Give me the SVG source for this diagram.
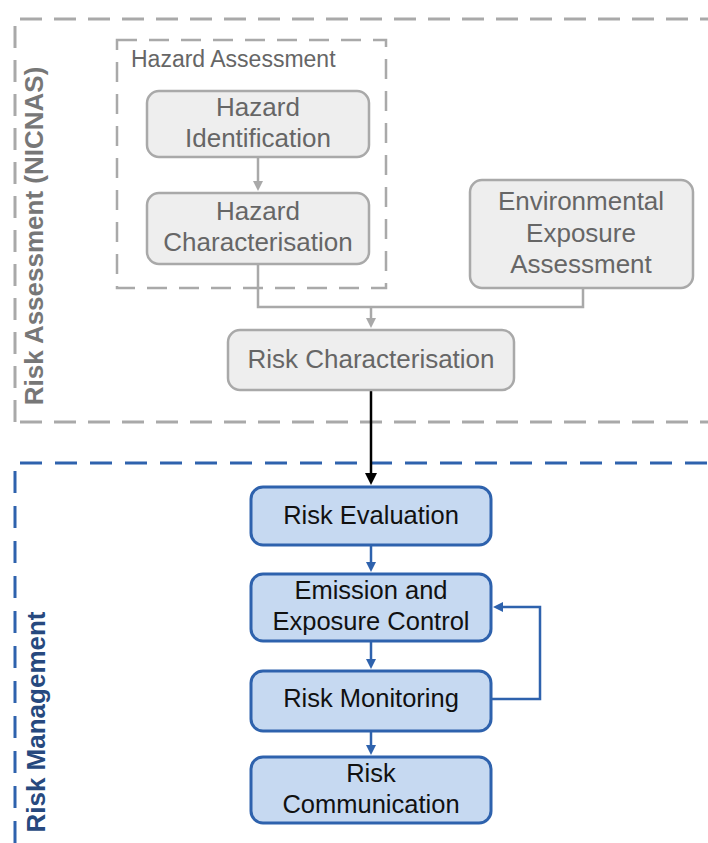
<svg xmlns="http://www.w3.org/2000/svg" width="708" height="843" viewBox="0 0 708 843">
<defs>
<style>
.gbox{fill:#eeeeee;stroke:#a9a9a9;stroke-width:2.5}
.bbox{fill:#c6d9f1;stroke:#2e62ad;stroke-width:3}
.gt{font-family:"Liberation Sans",Arial,sans-serif;font-size:26px;fill:#666;text-anchor:middle}
.bt{font-family:"Liberation Sans",Arial,sans-serif;font-size:25.5px;fill:#111;text-anchor:middle}
.gline{fill:none;stroke:#a9a9a9;stroke-width:2.5}
.bline{fill:none;stroke:#2e62ad;stroke-width:2.5}
</style>
<marker id="ag" markerWidth="10" markerHeight="10" refX="5" refY="5" orient="auto" markerUnits="userSpaceOnUse" viewBox="0 0 10 10"><path d="M0,0 L10,5 L0,10 z" fill="#a9a9a9"/></marker>
<marker id="ab" markerWidth="10" markerHeight="10" refX="5" refY="5" orient="auto" markerUnits="userSpaceOnUse" viewBox="0 0 10 10"><path d="M0,0 L10,5 L0,10 z" fill="#2e62ad"/></marker>
<marker id="ak" markerWidth="12" markerHeight="12" refX="6" refY="6" orient="auto" markerUnits="userSpaceOnUse" viewBox="0 0 12 12"><path d="M0,0 L12,6 L0,12 z" fill="#000"/></marker>
</defs>
<rect width="708" height="843" fill="#fff"/>
<g id="risk-assessment-group">
<path d="M15,422 L15,19 L708,19" fill="none" stroke="#a9a9a9" stroke-width="3" stroke-dasharray="22,12"/>
<path d="M20,422 L708,422" fill="none" stroke="#a9a9a9" stroke-width="3" stroke-dasharray="22,12"/>
<text transform="translate(43,236) rotate(-90)" font-family="'Liberation Sans',Arial,sans-serif" font-size="26" font-weight="bold" fill="#777" text-anchor="middle">Risk Assessment (NICNAS)</text>
</g>
<g id="hazard-assessment-group">
<rect x="117" y="40" width="269" height="248" fill="none" stroke="#a9a9a9" stroke-width="2.5" stroke-dasharray="20,12"/>
<text x="131" y="67" font-family="'Liberation Sans',Arial,sans-serif" font-size="23" fill="#666">Hazard Assessment</text>
</g>
<g id="risk-management-group">
<path d="M15,843 L15,463 L708,463" fill="none" stroke="#2e62ad" stroke-width="3" stroke-dasharray="22,13"/>
<text transform="translate(45,722) rotate(-90)" font-family="'Liberation Sans',Arial,sans-serif" font-size="26" font-weight="bold" fill="#27497e" text-anchor="middle">Risk Management</text>
</g>
<g id="connectors">
<path class="gline" d="M258,157 L258,186" marker-end="url(#ag)"/>
<path class="gline" d="M258,264 L258,307 L583,307 L583,288"/>
<path class="gline" d="M371,307 L371,323" marker-end="url(#ag)"/>
<path d="M371,390 L371,479" fill="none" stroke="#000" stroke-width="2.5" marker-end="url(#ak)"/>
<path class="bline" d="M371,545 L371,567" marker-end="url(#ab)"/>
<path class="bline" d="M371,641 L371,664" marker-end="url(#ab)"/>
<path class="bline" d="M371,731 L371,750" marker-end="url(#ab)"/>
<path class="bline" d="M491,699 L540,699 L540,607 L498,607" marker-end="url(#ab)"/>
</g>
<g id="hazard-identification">
<rect class="gbox" x="147" y="91" width="222" height="66" rx="12"/>
<text class="gt" x="258" y="116">Hazard</text>
<text class="gt" x="258" y="147">Identification</text>
</g>
<g id="hazard-characterisation">
<rect class="gbox" x="147" y="193" width="222" height="71" rx="12"/>
<text class="gt" x="258" y="220">Hazard</text>
<text class="gt" x="258" y="251">Characterisation</text>
</g>
<g id="environmental-exposure-assessment">
<rect class="gbox" x="470" y="180" width="223" height="108" rx="12"/>
<text class="gt" x="581" y="210">Environmental</text>
<text class="gt" x="581" y="242">Exposure</text>
<text class="gt" x="581" y="273">Assessment</text>
</g>
<g id="risk-characterisation">
<rect class="gbox" x="228" y="330" width="286" height="60" rx="12"/>
<text class="gt" x="371" y="368">Risk Characterisation</text>
</g>
<g id="risk-evaluation">
<rect class="bbox" x="251" y="487" width="240" height="58" rx="12"/>
<text class="bt" x="371" y="524">Risk Evaluation</text>
</g>
<g id="emission-exposure-control">
<rect class="bbox" x="251" y="574" width="240" height="67" rx="12"/>
<text class="bt" x="371" y="599">Emission and</text>
<text class="bt" x="371" y="630">Exposure Control</text>
</g>
<g id="risk-monitoring">
<rect class="bbox" x="251" y="671" width="240" height="60" rx="12"/>
<text class="bt" x="371" y="707">Risk Monitoring</text>
</g>
<g id="risk-communication">
<rect class="bbox" x="251" y="757" width="240" height="66" rx="12"/>
<text class="bt" x="371" y="782">Risk</text>
<text class="bt" x="371" y="813">Communication</text>
</g>
</svg>
